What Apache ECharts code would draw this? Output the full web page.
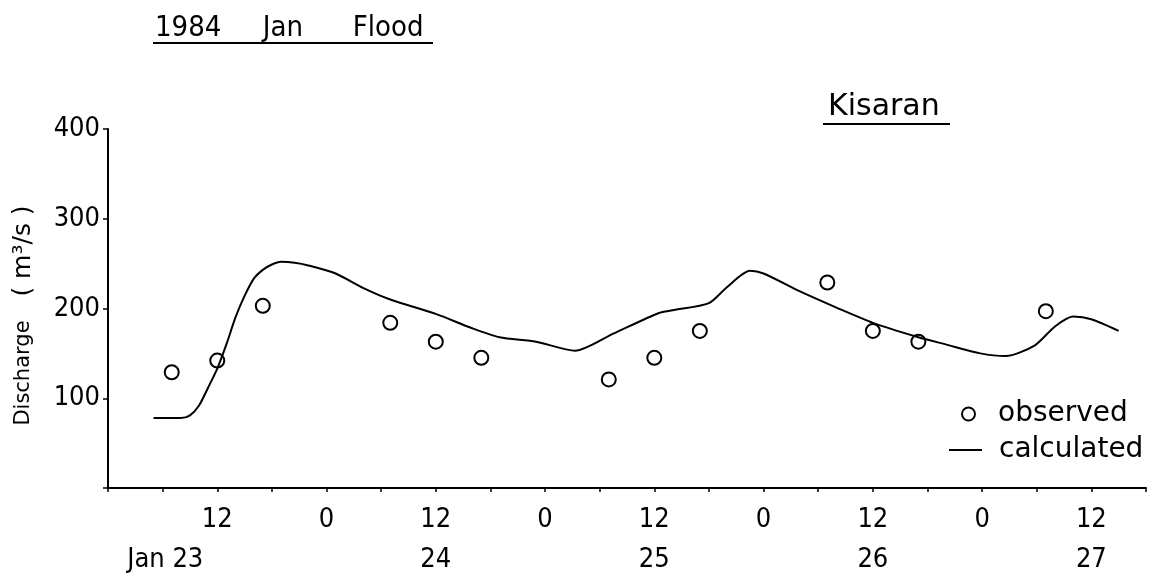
<!DOCTYPE html>
<html>
<head>
<meta charset="utf-8">
<script src="https://cdn.jsdelivr.net/npm/echarts@6/dist/echarts.min.js"></script>
<style>
html,body{margin:0;padding:0;background:#fff;}
#chart{width:1151px;height:581px;}
</style>
</head>
<body>
<div id="chart"></div>
<script>
// ---- data (hours since Jan 23 00:00) ----
const observedHours = [7, 12, 17, 31, 36, 41, 55, 60, 65, 79, 84, 89, 103];
const observedValues = [129, 142, 203, 184, 163, 145, 121, 145, 175, 229, 175, 163, 197];
const calculatedHours = [5, 8, 9, 10, 11, 12, 13, 14, 15, 16, 17, 18, 19, 20.5, 22, 25, 28, 31, 36, 40, 43, 47, 51.3, 55.5, 60.5, 62, 66, 68, 70.5, 72, 76, 80, 84, 89, 92, 95.8, 98.6, 101.8, 104, 106, 108, 111];
const calculatedValues = [78, 78, 81, 92, 112, 133, 160, 190, 214, 233, 243, 249, 252, 251, 248, 239, 223, 210, 194, 178, 168, 163, 153, 172, 195, 198, 206, 224, 242, 239, 219, 201, 184, 168, 160, 150, 147, 159, 180, 191, 188, 175];
const dayLabels = ['Jan 23', '24', '25', '26', '27'];
const yTicks = [100, 200, 300, 400];
const titleText = '1984     Jan      Flood';
const stationText = 'Kisaran';
const seriesNames = ['observed', 'calculated'];

const FONT = "'DejaVu Sans Condensed','Liberation Sans Narrow',sans-serif";
const FONT_R = "'DejaVu Sans',sans-serif";

const obsData = observedHours.map((h, i) => [h, observedValues[i]]);
const calcData = calculatedHours.map((h, i) => [h, calculatedValues[i]]);

const chart = echarts.init(document.getElementById('chart'), null, {renderer: 'canvas'});
chart.setOption({
  animation: false,
  backgroundColor: '#fff',
  title: [
    {text: titleText, left: 155, top: 14, padding: 0,
     textStyle: {fontFamily: FONT, fontSize: 29, fontWeight: 'normal', color: '#000'}},
    {text: stationText, left: 828, top: 92, padding: 0,
     textStyle: {fontFamily: FONT_R, fontSize: 30, fontWeight: 'normal', color: '#000'}}
  ],
  graphic: [
    {type: 'line', shape: {x1: 153, y1: 43, x2: 433, y2: 43}, style: {stroke: '#000', lineWidth: 2}},
    {type: 'line', shape: {x1: 823, y1: 124, x2: 950, y2: 124}, style: {stroke: '#000', lineWidth: 2}}
  ],
  legend: [
    {data: [{name: seriesNames[0], icon: 'circle'}], left: 961, top: 399, orient: 'vertical', padding: 0,
     itemWidth: 33, itemHeight: 13, itemGap: 0,
     textStyle: {fontFamily: FONT_R, fontSize: 28, lineHeight: 30, color: '#000', padding: [0, 0, 0, 8]}},
    {data: [{name: seriesNames[1], icon: 'rect'}], left: 949, top: 435, orient: 'vertical', padding: 0,
     itemWidth: 33, itemHeight: 2, itemGap: 0,
     textStyle: {fontFamily: FONT_R, fontSize: 28, lineHeight: 30, color: '#000', padding: [0, 0, 0, 12]}}
  ],
  grid: {left: 108, right: 5, top: 129, bottom: 93, containLabel: false},
  xAxis: {
    type: 'value', min: 0, max: 114, interval: 6,
    axisLine: {show: true, lineStyle: {color: '#000', width: 2}},
    axisTick: {show: true, length: 4, lineStyle: {color: '#000', width: 1.5}},
    splitLine: {show: false},
    axisLabel: {
      show: true, margin: 12, interval: 0, showMinLabel: true, showMaxLabel: true,
      fontFamily: FONT, fontSize: 27, color: '#000', lineHeight: 40,
      formatter: function (v) {
        if (v % 24 === 12) {
          const d = dayLabels[(v - 12) / 24];
          if (d === undefined) return '12';
          if (d.length > 2) return '12\n{jan|' + d + '}';
          return '12\n' + d;
        }
        if (v % 24 === 0 && v > 0 && v < 114) return '0';
        return '';
      },
      rich: {jan: {fontFamily: FONT, fontSize: 27, color: '#000', lineHeight: 40, padding: [0, 104, 0, 0]}}
    }
  },
  yAxis: {
    type: 'value', min: 0, max: 400, interval: 100,
    name: '{a|Discharge}{b|   ( m³/s )}', nameLocation: 'middle', nameGap: 72, nameRotate: 90,
    nameTextStyle: {
      fontFamily: FONT_R, fontSize: 21, color: '#000',
      rich: {
        a: {fontFamily: FONT_R, fontSize: 21, color: '#000'},
        b: {fontFamily: FONT_R, fontSize: 25, color: '#000', padding: [0, 14, 0, 0]}
      }
    },
    axisLine: {show: true, lineStyle: {color: '#000', width: 2}},
    axisTick: {show: true, length: 5, lineStyle: {color: '#000', width: 1.5}},
    splitLine: {show: false},
    axisLabel: {
      margin: 8, fontFamily: FONT, fontSize: 27, color: '#000',
      formatter: function (v) { return yTicks.indexOf(v) >= 0 ? String(v) : ''; }
    }
  },
  series: [
    {name: seriesNames[0], type: 'scatter', data: obsData, symbol: 'circle', symbolSize: 14,
     itemStyle: {color: 'rgba(0,0,0,0)', borderColor: '#000', borderWidth: 2, opacity: 1}, z: 3},
    {name: seriesNames[1], type: 'line', data: calcData, showSymbol: false, symbol: 'none',
     smooth: 0.25, lineStyle: {color: '#000', width: 2}, itemStyle: {color: '#000'}, z: 2}
  ]
});
</script>
</body>
</html>
